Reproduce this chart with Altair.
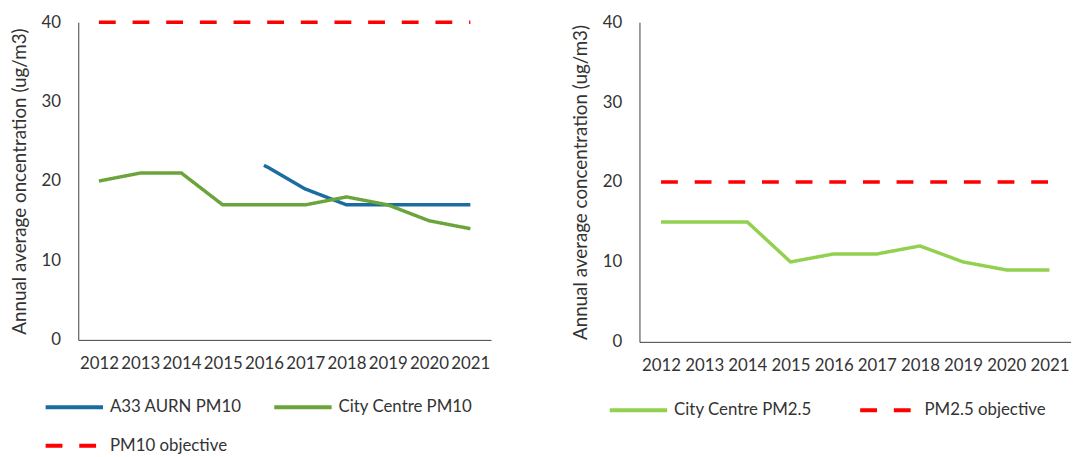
import altair as alt
import pandas as pd

years = ["2012", "2013", "2014", "2015", "2016", "2017", "2018", "2019", "2020", "2021"]
a33_pm10 = [None, None, None, None, 22, 19, 17, 17, 17, 17]
city_pm10 = [20, 21, 21, 17, 17, 17, 18, 17, 15, 14]
pm10_objective = [40] * 10
city_pm25 = [15, 15, 15, 10, 11, 11, 12, 10, 9, 9]
pm25_objective = [20] * 10

left_series = ["A33 AURN PM10", "City Centre PM10", "PM10 objective"]
right_series = ["City Centre PM2.5", "PM2.5 objective"]

FONT = "Lato"
TXT = "#333333"


def long_df(series_names, series_values):
    rows = []
    for name, vals in zip(series_names, series_values):
        for y, v in zip(years, vals):
            if v is not None:
                rows.append({"year": y, "series": name, "value": v})
    return pd.DataFrame(rows)


df_left = long_df(left_series, [a33_pm10, city_pm10, pm10_objective])
df_right = long_df(right_series, [city_pm25, pm25_objective])


def panel(df, series, colors, dashes, title, width, height, lx, ly, colpad):
    leg = alt.Legend(
        title=None, orient="none", legendX=lx, legendY=ly, columns=2,
        direction="horizontal",
        columnPadding=colpad, rowPadding=-20, symbolType="stroke",
        symbolSize=3364, symbolStrokeWidth=4, labelFont=FONT, labelFontSize=17,
        labelColor=TXT, labelOffset=5,
    )
    return alt.Chart(df).mark_line(strokeWidth=3.5).encode(
        x=alt.X("year:O", sort=years, title=None,
                axis=alt.Axis(labelAngle=0, ticks=False, labelPadding=16, labelOverlap=False)),
        y=alt.Y("value:Q", scale=alt.Scale(domain=[0, 40]), title=title,
                axis=alt.Axis(values=[0, 10, 20, 30, 40], ticks=False, grid=False,
                              labelPadding=18, titlePadding=12)),
        color=alt.Color("series:N", scale=alt.Scale(domain=series, range=colors), legend=leg),
        strokeDash=alt.StrokeDash("series:N", scale=alt.Scale(domain=series, range=dashes), legend=leg),
    ).properties(width=width, height=height)


left = panel(df_left, left_series, ["#1B6CA0", "#6AA43A", "#FF0000"],
             [[1, 0], [1, 0], [17, 17]],
             "Annual average oncentration (ug/m3)", 417, 321, -35, 358, 24)
right = panel(df_right, right_series, ["#92D050", "#FF0000"],
              [[1, 0], [17, 17]],
              "Annual average concentration (ug/m3)", 436, 323, -32, 361, 40)

chart = alt.hconcat(left, right, spacing=81).resolve_scale(
    color="independent", strokeDash="independent"
).resolve_legend(color="independent", strokeDash="independent").properties(
    padding={"left": 2, "top": 3, "right": 0, "bottom": 0}
).configure_view(stroke=None).configure_axis(
    domainColor="#404040", domainWidth=1, labelFont=FONT, labelFontSize=17,
    labelColor=TXT, titleFont=FONT, titleFontSize=19, titleFontWeight="normal",
    titleColor=TXT, grid=False,
)

chart.save("out.html", embed_options={"renderer": "svg", "actions": False})
